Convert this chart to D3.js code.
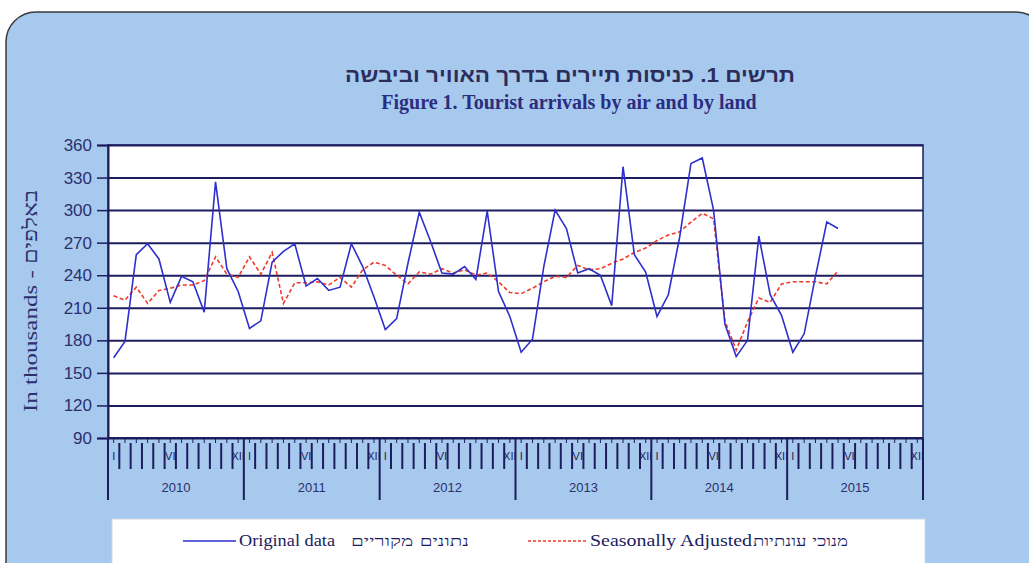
<!DOCTYPE html>
<html>
<head>
<meta charset="utf-8">
<script src="https://cdn.jsdelivr.net/npm/d3@7"></script>
<style>
  body { margin: 0; background: #fff; }
  svg { display: block; }
</style>
</head>
<body>
<div id="chart"></div>
<script>
// tourist arrivals, thousands, monthly Jan 2010 - May 2015
var years = [2010, 2011, 2012, 2013, 2014, 2015];
var monthLabels = {0: "I", 5: "VI", 11: "XII"};
var yTicks = [90, 120, 150, 180, 210, 240, 270, 300, 330, 360];

var original = [
  164, 179, 259, 269, 255, 215, 239, 234, 206, 326, 246, 225,
  191, 198, 252, 262, 269, 230, 237, 226, 229, 269, 248, 220,
  190, 200, 251, 298, 271, 242, 241, 248, 236, 299, 225, 202,
  169, 181, 248, 300, 283, 242, 246, 240, 212, 340, 259, 243,
  202, 222, 275, 343, 348, 300, 195, 165, 180, 276, 222, 203,
  169, 186, 239, 289, 283
];
var adjusted = [
  221, 217, 229, 214, 226, 228, 231, 231, 235, 257, 241, 238,
  257, 241, 261, 214, 233, 233, 234, 231, 238, 229, 245, 252,
  249, 240, 232, 243, 241, 246, 242, 245, 240, 242, 234, 224,
  223, 228, 234, 239, 238, 249, 245, 246, 251, 255, 261, 265,
  272, 277, 280, 289, 297, 292, 198, 171, 197, 219, 215, 232,
  234, 234, 234, 232, 244
];

var W = 1029, H = 563;
var navy = "#1c1c5e";
var textCol = "#2c2f6e";

var svg = d3.select("#chart").append("svg")
  .attr("width", W).attr("height", H);

// panel background
svg.append("rect")
  .attr("x", 6).attr("y", 12)
  .attr("width", 1040).attr("height", 600)
  .attr("rx", 30)
  .attr("fill", "#a7c9ed")
  .attr("stroke", "#3a3a3a")
  .attr("stroke-width", 1.5);

// titles
svg.append("text")
  .attr("x", 570).attr("y", 82)
  .attr("text-anchor", "middle")
  .attr("font-family", "'Liberation Sans', Arial, 'DejaVu Sans', sans-serif")
  .attr("font-weight", "bold")
  .attr("font-size", 20)
  .attr("fill", "#2d2d5c")
  .attr("textLength", 450).attr("lengthAdjust", "spacingAndGlyphs")
  .text("תרשים 1. כניסות תיירים בדרך האוויר וביבשה");

svg.append("text")
  .attr("x", 569).attr("y", 109)
  .attr("text-anchor", "middle")
  .attr("font-family", "'Liberation Serif', 'Times New Roman', serif")
  .attr("font-weight", "bold")
  .attr("font-size", 20)
  .attr("fill", "#2b2d80")
  .text("Figure 1. Tourist arrivals by air and by land");

// plot area
var pLeft = 108, pRight = 923, pTop = 145, pBottom = 438;

var x = d3.scaleLinear().domain([0, years.length * 12]).range([pLeft, pRight]);
var y = d3.scaleLinear().domain([90, 360]).range([pBottom, pTop]);

svg.append("rect")
  .attr("x", pLeft).attr("y", pTop)
  .attr("width", pRight - pLeft).attr("height", pBottom - pTop)
  .attr("fill", "#fff")
  .attr("stroke", navy)
  .attr("stroke-width", 1.5);

// gridlines
svg.append("g")
  .attr("transform", "translate(" + pLeft + ",0)")
  .call(d3.axisLeft(y).tickValues(yTicks).tickSize(-(pRight - pLeft)).tickFormat(""))
  .call(function(g) {
    g.select(".domain").remove();
    g.selectAll("line").attr("stroke", navy).attr("stroke-width", 2);
  });

// y axis
svg.append("g")
  .attr("transform", "translate(" + pLeft + ",0)")
  .call(d3.axisLeft(y).tickValues(yTicks).tickSize(11).tickPadding(5))
  .call(function(g) {
    g.select(".domain").attr("stroke", navy).attr("stroke-width", 2);
    g.selectAll("line").attr("stroke", navy).attr("stroke-width", 1.5);
    g.selectAll("text")
      .attr("font-family", "'Liberation Sans', Arial, sans-serif")
      .attr("font-size", 17)
      .attr("fill", textCol);
  });

svg.append("text")
  .attr("transform", "translate(37,301) rotate(-90)")
  .attr("text-anchor", "middle")
  .attr("font-family", "'Liberation Serif', 'Times New Roman', serif")
  .attr("font-size", 19)
  .attr("fill", textCol)
  .attr("textLength", 222).attr("lengthAdjust", "spacingAndGlyphs")
  .text("In thousands - באלפים");

// x axis: months and years
var xg = svg.append("g");
xg.append("line")
  .attr("x1", pLeft).attr("x2", pRight)
  .attr("y1", pBottom).attr("y2", pBottom)
  .attr("stroke", navy).attr("stroke-width", 2);

var months = d3.range(years.length * 12);
xg.selectAll(".mtick").data(months).enter().append("line")
  .attr("x1", function(d) { return x(d + 0.5); })
  .attr("x2", function(d) { return x(d + 0.5); })
  .attr("y1", pBottom).attr("y2", pBottom + 5)
  .attr("stroke", navy).attr("stroke-width", 1);

xg.selectAll(".mbar").data(months.filter(function(d) { return d % 12 != 0; }))
  .enter().append("line")
  .attr("x1", function(d) { return x(d); })
  .attr("x2", function(d) { return x(d); })
  .attr("y1", pBottom + 5).attr("y2", pBottom + 31)
  .attr("stroke", navy).attr("stroke-width", 2);

xg.selectAll(".mlab").data(months.filter(function(d) { return monthLabels[d % 12]; }))
  .enter().append("text")
  .attr("x", function(d) { return x(d + 0.5); })
  .attr("y", pBottom + 22)
  .attr("text-anchor", "middle")
  .attr("font-family", "'Liberation Sans', Arial, sans-serif")
  .attr("font-size", 11)
  .attr("fill", navy)
  .text(function(d) { return monthLabels[d % 12]; });

xg.selectAll(".ybound").data(d3.range(years.length + 1)).enter().append("line")
  .attr("x1", function(d) { return x(d * 12); })
  .attr("x2", function(d) { return x(d * 12); })
  .attr("y1", pBottom).attr("y2", pBottom + 62)
  .attr("stroke", navy).attr("stroke-width", 2);

xg.selectAll(".ylab").data(years).enter().append("text")
  .attr("x", function(d, i) { return x(i * 12 + 6); })
  .attr("y", pBottom + 54)
  .attr("text-anchor", "middle")
  .attr("font-family", "'Liberation Sans', Arial, sans-serif")
  .attr("font-size", 13)
  .attr("fill", textCol)
  .text(function(d) { return d; });

// lines
var line = d3.line()
  .x(function(d, i) { return x(i + 0.5); })
  .y(function(d) { return y(d); });

svg.append("path")
  .datum(adjusted)
  .attr("d", line)
  .attr("fill", "none")
  .attr("stroke", "#ee3b2b")
  .attr("stroke-width", 1.6)
  .attr("stroke-dasharray", "4,2.5");

svg.append("path")
  .datum(original)
  .attr("d", line)
  .attr("fill", "none")
  .attr("stroke", "#2f2fcc")
  .attr("stroke-width", 1.6);

// legend
svg.append("rect")
  .attr("x", 112).attr("y", 519)
  .attr("width", 813).attr("height", 60)
  .attr("fill", "#fff")
  .attr("stroke", "#d0d8e4");

var lg = svg.append("g");
lg.append("line")
  .attr("x1", 183).attr("x2", 236).attr("y1", 541).attr("y2", 541)
  .attr("stroke", "#2f2fcc").attr("stroke-width", 1.6);
lg.append("text")
  .attr("x", 239).attr("y", 546)
  .attr("font-family", "'Liberation Serif', 'Times New Roman', serif")
  .attr("font-size", 17).attr("fill", navy)
  .attr("textLength", 96).attr("lengthAdjust", "spacingAndGlyphs")
  .text("Original data");
lg.append("text")
  .attr("x", 469).attr("y", 546)
  .attr("text-anchor", "end")
  .attr("font-family", "'DejaVu Serif', serif")
  .attr("font-size", 14).attr("fill", navy)
  .attr("textLength", 118).attr("lengthAdjust", "spacingAndGlyphs")
  .text("נתונים מקוריים");

lg.append("line")
  .attr("x1", 528).attr("x2", 587).attr("y1", 541).attr("y2", 541)
  .attr("stroke", "#ee3b2b").attr("stroke-width", 1.6)
  .attr("stroke-dasharray", "3,2");
lg.append("text")
  .attr("x", 590).attr("y", 546)
  .attr("font-family", "'Liberation Serif', 'Times New Roman', serif")
  .attr("font-size", 17).attr("fill", navy)
  .attr("textLength", 162).attr("lengthAdjust", "spacingAndGlyphs")
  .text("Seasonally Adjusted");
lg.append("text")
  .attr("x", 848).attr("y", 546)
  .attr("text-anchor", "end")
  .attr("font-family", "'DejaVu Serif', serif")
  .attr("font-size", 14).attr("fill", navy)
  .attr("textLength", 95).attr("lengthAdjust", "spacingAndGlyphs")
  .text("מנוכי עונתיות");
</script>
</body>
</html>
